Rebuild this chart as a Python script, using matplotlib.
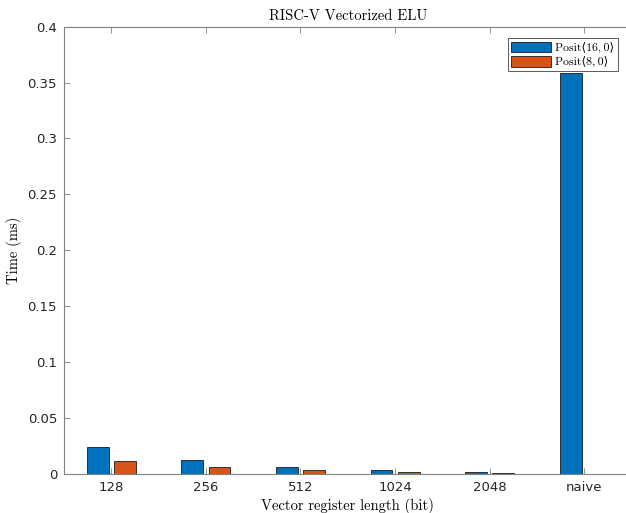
import matplotlib
matplotlib.use("Agg")
import matplotlib.pyplot as plt
import numpy as np

categories = ["128", "256", "512", "1024", "2048", "naive"]
posit16 = [0.0239, 0.0120, 0.0060, 0.0033, 0.0015, 0.3587]
posit8 = [0.0114, 0.0060, 0.0030, 0.0013, 0.0007, 0.0]
labels = ['Posit\u27e816,\u20090\u27e9', 'Posit\u27e88,\u20090\u27e9']
yticks = [0, 0.05, 0.1, 0.15, 0.2, 0.25, 0.3, 0.35, 0.4]

W, H = 626, 513
fig = plt.figure(figsize=(W/100, H/100), dpi=100)
# axes runs slightly past the right edge of the picture, as in the reference
ax = fig.add_axes([64/W, 1-473.7/H, (631.6-64)/W, (473.7-26.7)/H])

x = np.arange(1, len(categories)+1)
bw = 0.23
off = 0.143
ax.bar(x-off, posit16, bw, color='#0072BD', edgecolor='#1a1a1a', lw=0.6, label=labels[0], zorder=2)
ax.bar(x+off, posit8, bw, color='#D95319', edgecolor='#1a1a1a', lw=0.6, label=labels[1], zorder=2)

ax.set_xlim(0.5, 6.5)
ax.set_ylim(0, 0.4)
ax.set_xticks(x)
ax.set_xticklabels(categories)
ax.set_yticks(yticks)
ax.set_yticklabels(["0", "0.05", "0.1", "0.15", "0.2", "0.25", "0.3", "0.35", "0.4"])

axcol = '#808080'
for s in ax.spines.values():
    s.set_color(axcol)
    s.set_linewidth(0.8)
ax.tick_params(direction='in', length=4, width=0.6, color=axcol, top=True, right=True,
               labelsize=9.5, labelcolor='#262626', pad=5)

ax.set_title('RISC-V Vectorized ELU', family='cmr10', fontsize=10.5, pad=5)
ax.set_xlabel('Vector register length (bit)', family='cmr10', fontsize=10.5, labelpad=3)
ax.set_ylabel('Time (ms)', family='cmr10', fontsize=10.5, labelpad=3.8)

leg = ax.legend(loc='upper right', bbox_to_anchor=(618/W, 1-38/H), bbox_transform=fig.transFigure,
                borderaxespad=0, fancybox=False, prop={'family': ['cmr10', 'DejaVu Serif', 'DejaVu Sans'], 'size': 8.5},
                handlelength=3.4, handleheight=1.05, handletextpad=0.35, borderpad=0.3,
                labelspacing=0.2, framealpha=1)
leg.get_frame().set_edgecolor('#404040')
leg.get_frame().set_linewidth(0.6)

fig.savefig('out.png', dpi=100)
